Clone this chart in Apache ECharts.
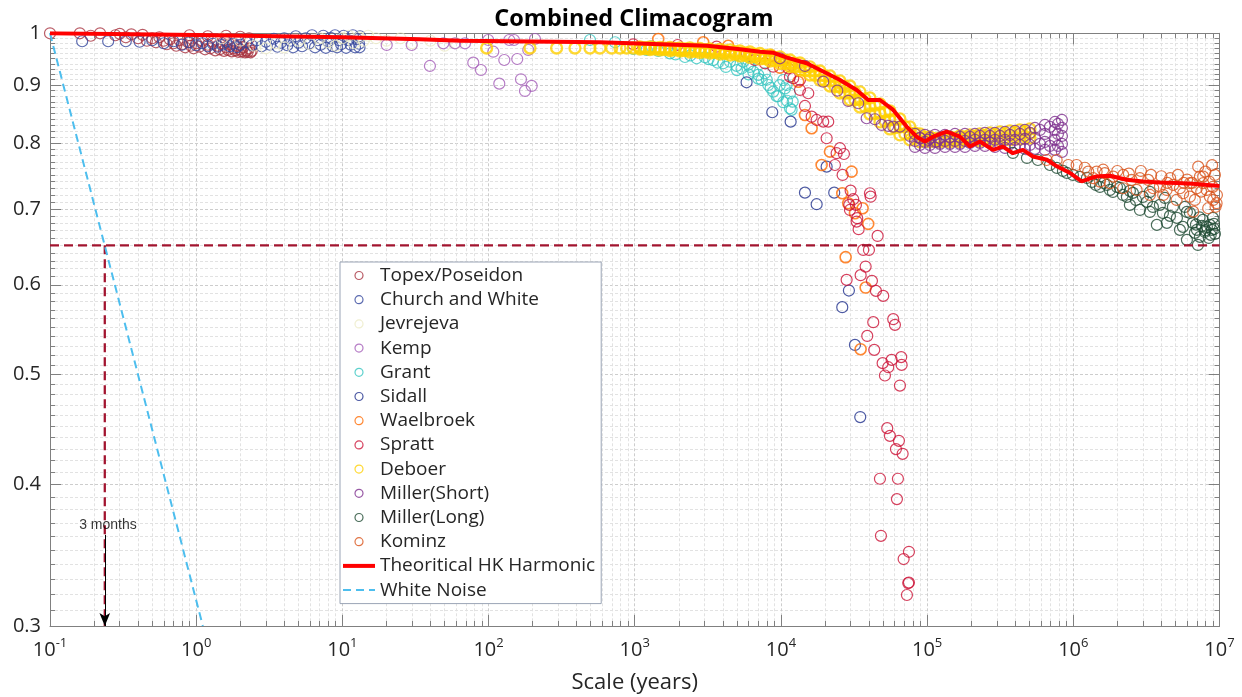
<!DOCTYPE html>
<html><head><meta charset="utf-8">
<script src="https://cdn.jsdelivr.net/npm/echarts@6/dist/echarts.min.js"></script>
<style>html,body{margin:0;padding:0;background:#fff}#c{width:1242px;height:697px}</style>
</head><body><div id="c"></div><script>
// ---------------- data (x = scale in years, y = climacogram value) ----------------
const xTickValues = [0.1, 1, 10, 100, 1000, 1e4, 1e5, 1e6, 1e7];
const yTickValues = [0.3, 0.4, 0.5, 0.6, 0.7, 0.8, 0.9, 1];
const thresholdY = 0.65;
const threeMonthsX = 0.237;

const topex = [[0.1,1.0],[0.16,1.0],[0.19,0.995],[0.22,1.0],[0.28,0.996],[0.3,0.999],[0.33,0.992],[0.36,0.998],[0.4,0.99],[0.43,0.997],[0.46,0.985],[0.5,0.99],[0.53,0.982],[0.56,0.992],[0.6,0.985],[0.63,0.978],[0.66,0.988],[0.7,0.98],[0.73,0.975],[0.77,0.986],[0.8,0.978],[0.84,0.972],[0.88,0.982],[0.92,0.975],[0.96,0.97],[1.0,0.98],[1.05,0.973],[1.1,0.985],[1.15,0.968],[1.2,0.977],[1.25,0.97],[1.3,0.983],[1.35,0.966],[1.4,0.975],[1.45,0.968],[1.5,0.98],[1.55,0.965],[1.6,0.972],[1.65,0.967],[1.7,0.978],[1.75,0.964],[1.8,0.97],[1.85,0.966],[1.9,0.975],[1.95,0.963],[2.0,0.968],[2.05,0.964],[2.1,0.972],[2.15,0.962],[2.2,0.966],[2.25,0.963],[2.3,0.97],[2.35,0.962],[2.4,0.965],[1.6,0.995],[2.0,0.993],[2.3,0.99],[1.2,0.994],[0.9,0.996]];

const church = [[0.166,0.984],[0.25,0.984],[0.33,0.984],[0.41,0.983],[0.5,0.986],[0.6,0.98],[0.7,0.984],[0.8,0.977],[0.9,0.982],[1.0,0.976],[1.1,0.98],[1.2,0.974],[1.3,0.979],[1.4,0.973],[1.5,0.977],[1.6,0.983],[1.7,0.974],[1.8,0.979],[1.9,0.972],[2.0,0.977],[2.2,0.982],[2.4,0.976],[2.6,0.986],[2.8,0.974],[3.0,0.983],[3.2,0.977],[3.4,0.989],[3.6,0.973],[3.8,0.981],[4.0,0.99],[4.2,0.976],[4.4,0.985],[4.6,0.972],[4.8,0.994],[5.0,0.981],[5.3,0.974],[5.6,0.99],[5.9,0.979],[6.2,0.996],[6.5,0.972],[6.8,0.986],[7.1,0.977],[7.4,0.995],[7.7,0.971],[8.0,0.983],[8.3,0.991],[8.6,0.974],[8.9,0.996],[9.2,0.972],[9.5,0.986],[9.8,0.978],[10.2,0.995],[10.6,0.971],[11,0.986],[11.4,0.977],[11.8,0.996],[12.2,0.972],[12.6,0.988],[13,0.979],[13.2,0.994],[13.1,0.972]];

const jevrejeva = [[1.5,0.99],[2,0.985],[2.5,0.975],[3,0.97],[3.5,0.98],[4,0.972],[5,0.985],[6,0.978],[7,0.99],[8,0.982],[9,0.975],[10,0.99],[11,0.995],[12,0.98],[13,0.992],[14,0.985],[15,0.995],[17,0.99],[20,0.985],[25,0.99],[30,0.98],[40,0.985],[50,0.975],[60,0.98]];

const kemp = [[20.1,0.9765],[29.8,0.9765],[39.7,0.9358],[49,0.9799],[58.9,0.9799],[69,0.9799],[78.6,0.9421],[88.7,0.9282],[99.5,0.9865],[107.7,0.9633],[118.4,0.9028],[128.1,0.9472],[138.6,0.9865],[149.2,0.9865],[157.1,0.9491],[166.6,0.9108],[177.4,0.8895],[186.9,0.9667],[197.2,0.8986],[207.7,0.9885]];

const grant = [[494,0.9865],[733,0.982],[977,0.9687],[1205,0.967],[1449,0.9647],[1742,0.96],[2205,0.953],[2650,0.9505],[3020,0.9525],[3440,0.947],[4030,0.941],[4480,0.944],[4970,0.936],[5380,0.931],[5970,0.938],[6470,0.925],[7000,0.919],[7380,0.9095],[8190,0.9003],[8860,0.8883],[9340,0.88],[10370,0.8694],[11530,0.8587],[12030,0.8703],[10930,0.9003],[5520,0.944],[6140,0.934],[7000,0.912],[7760,0.922],[9570,0.88],[10640,0.894],[11530,0.885],[11830,0.856],[10370,0.9095],[1300,0.974],[1900,0.958],[2400,0.956],[3200,0.949],[3700,0.942],[4200,0.934],[5000,0.928],[6000,0.92],[8000,0.91],[8500,0.895],[9800,0.9],[11000,0.872]];

const sidall = [[5821,0.9053],[8723,0.8518],[11650,0.8357],[14600,0.7235],[17550,0.7067],[20540,0.7627],[23150,0.7235],[26270,0.5733],[29170,0.593],[32080,0.531],[34870,0.4586]];

const waelbroek = [[1448,0.9885],[2941,0.9819],[4361,0.9751],[8634,0.9556],[9840,0.9327],[10650,0.9473],[11830,0.9377],[13130,0.9064],[14600,0.8471],[16220,0.8246],[18980,0.7653],[21640,0.7863],[26270,0.7226],[28860,0.7081],[30450,0.755],[32080,0.6939],[36210,0.7009],[39550,0.679],[27710,0.6346],[37960,0.5966],[35090,0.5264]];

const spratt = [[977,0.9779],[1966,0.9765],[3631,0.9732],[5821,0.9602],[6641,0.9472],[7777,0.9409],[8859,0.9344],[11220,0.9314],[11525,0.9157],[12140,0.9129],[13490,0.9095],[13490,0.8913],[15380,0.8853],[14600,0.8628],[16220,0.8442],[17550,0.8386],[19470,0.8357],[21060,0.8357],[20540,0.808],[25330,0.7918],[24040,0.7838],[26970,0.7826],[23410,0.7653],[26420,0.75],[29970,0.7265],[40630,0.7226],[41080,0.7176],[31230,0.7139],[29330,0.7057],[32580,0.7057],[29650,0.6985],[33250,0.6869],[34000,0.6717],[32940,0.6822],[45860,0.6626],[36550,0.644],[39990,0.644],[37960,0.6226],[35090,0.6118],[28140,0.606],[41930,0.6048],[44650,0.5926],[50090,0.5866],[42800,0.5561],[58630,0.5595],[60230,0.5531],[38940,0.5408],[43480,0.5257],[49620,0.5117],[57180,0.5151],[54190,0.5075],[66490,0.518],[66920,0.5099],[51440,0.499],[65160,0.4889],[53340,0.4484],[55660,0.4414],[64120,0.437],[61180,0.4297],[67980,0.4256],[47560,0.4046],[63130,0.4046],[62140,0.3882],[48310,0.3603],[75080,0.3488],[69060,0.3437],[74260,0.3273],[72750,0.3195],[75080,0.3277]];

const deboer = [[97,0.9706],[192,0.9706],[292,0.9706],[390,0.9706],[494,0.9706],[578,0.9706],[695,0.9706],[792,0.9706],[881,0.9706],[978,0.9706],
[1085,0.9726],[1085,0.9706],[1085,0.9686],[1271,0.9726],[1271,0.9701],[1271,0.9676],[1487,0.9716],[1487,0.9691],[1487,0.9667],
[1741,0.9716],[1741,0.9686],[1741,0.9657],[2038,0.9706],[2038,0.9676],[2038,0.9647],[2385,0.9706],[2385,0.9667],[2385,0.9627],
[2793,0.9696],[2793,0.9657],[2793,0.9618],[3268,0.9686],[3268,0.9647],[3268,0.9608],[3826,0.9676],[3826,0.9632],[3826,0.9588],
[4479,0.9667],[4479,0.9618],[4479,0.9569],[5243,0.9647],[5243,0.9598],[5243,0.955],[6138,0.9627],[6138,0.9574],[6138,0.9521],
[7185,0.9598],[7185,0.9545],[7185,0.9492],[8410,0.9569],[8410,0.9511],[8410,0.9453],[9845,0.953],[9845,0.9467],[9845,0.9405],
[11525,0.9472],[11525,0.941],[11525,0.9348],[13490,0.9415],[13490,0.9348],[13490,0.9282],[15790,0.9339],[15790,0.9263],[15790,0.9188],
[18490,0.9263],[18490,0.9179],[18490,0.9095],[21640,0.917],[21640,0.9077],[21640,0.8985],[25330,0.9077],[25330,0.8967],[25330,0.8858],
[29650,0.8985],[29650,0.8858],[29650,0.8733],[34710,0.8877],[34710,0.8742],[34710,0.861],[40630,0.8769],[40630,0.8628],[40630,0.8489],
[47560,0.8663],[47560,0.8506],[47560,0.8352],[55680,0.854],[55680,0.8386],[55680,0.8234],[65160,0.8403],[65160,0.8268],[65160,0.8135],
[76280,0.8268],[76280,0.8159],[76280,0.8053],[89300,0.8151],[89300,0.8085],[89300,0.802],[104500,0.8102],[104500,0.8061],[104500,0.802],
[122400,0.8085],[122400,0.8053],[122400,0.802],[143200,0.8102],[143200,0.8061],[143200,0.802],[167600,0.8118],[167600,0.8069],[167600,0.802],
[196300,0.8135],[196300,0.8085],[196300,0.8036],[229700,0.8151],[229700,0.8094],[229700,0.8036],[268900,0.8168],[268900,0.8102],[268900,0.8036],
[314800,0.8184],[314800,0.8118],[314800,0.8053],[368500,0.8201],[368500,0.8127],[368500,0.8053],[431300,0.8218],[431300,0.8143],[431300,0.8069],
[505000,0.8234],[505000,0.8159],[505000,0.8085],
[1174,0.9714],[1174,0.9692],[1375,0.9708],[1375,0.9684],[1609,0.9702],[1609,0.9674],[1884,0.9696],[1884,0.9667],[2205,0.9688],[2205,0.9655],
[2581,0.9681],[2581,0.9642],[3021,0.9671],[3021,0.9632],[3537,0.9661],[3537,0.962],[4140,0.9649],[4140,0.9602],[4846,0.9632],[4846,0.9584],
[5673,0.9612],[5673,0.9561],[6641,0.9586],[6641,0.9532],[7777,0.9555],[7777,0.9499],[9100,0.9519],[9100,0.9459],[10650,0.947],[10650,0.9407],
[12470,0.9411],[12470,0.9346],[14600,0.934],[14600,0.9271],[17090,0.9261],[17090,0.9181],[20000,0.9171],[20000,0.9084],[23410,0.9072],[23410,0.8972],
[27410,0.8972],[27410,0.8854],[32080,0.8866],[32080,0.8735],[37550,0.8753],[37550,0.8617],[43950,0.8641],[43950,0.8493],[51440,0.8523],[51440,0.8369],
[60230,0.8399],[60230,0.8255],[70500,0.8274],[70500,0.8152],[82540,0.8166],[82540,0.8078],[96600,0.81],[96600,0.8046],[113100,0.8075],[113100,0.8037],
[132400,0.8075],[132400,0.8037],[155000,0.8087],[155000,0.8043],[181400,0.8102],[181400,0.8053],[212300,0.8116],[212300,0.8062],[248600,0.8128],[248600,0.8067],
[290900,0.8143],[290900,0.8077],[340600,0.8157],[340600,0.8087],[398700,0.8172],[398700,0.8097],[466700,0.8188],[466700,0.8114]];

const millerShort = [[9845,0.9505],[14600,0.9358],[19470,0.9064],[24270,0.89],[28860,0.8716],[33790,0.8675],[38580,0.8415],[43950,0.8398],[48850,0.8301],[54200,0.8285],[58610,0.8273],[65150,0.8273],[76260,0.8118],[89290,0.808],[101700,0.8053],[116100,0.8024],
[82540,0.8151],[82540,0.8036],[82540,0.7939],[96600,0.8135],[96600,0.802],[96600,0.7923],[113100,0.8135],[113100,0.802],[113100,0.7923],
[132400,0.8135],[132400,0.8036],[132400,0.7939],[155000,0.8151],[155000,0.8036],[155000,0.7939],[181400,0.8151],[181400,0.8036],[181400,0.7939],
[212300,0.8151],[212300,0.8053],[212300,0.7955],[248600,0.8168],[248600,0.8053],[248600,0.7955],[290900,0.8168],[290900,0.8053],[290900,0.7939],
[340600,0.8184],[340600,0.8053],[340600,0.7923],[398700,0.8201],[398700,0.8053],[398700,0.7923],[466700,0.8218],[466700,0.8069],[466700,0.7907],
[546300,0.8251],[546300,0.8085],[546300,0.7907],[639400,0.8301],[639400,0.8151],[639400,0.802],[639400,0.7891],
[748500,0.8352],[748500,0.8218],[748500,0.8053],[748500,0.7891],[835800,0.8386],[835800,0.8251],[835800,0.8118],[835800,0.7988],[835800,0.7858],
[89300,0.8085],[89300,0.7971],[104500,0.8085],[104500,0.7971],[122400,0.8085],[122400,0.7988],[143200,0.8102],[143200,0.7988],[167600,0.8102],[167600,0.7988],
[196300,0.8102],[196300,0.8004],[229700,0.8118],[229700,0.8004],[268900,0.8118],[268900,0.8004],[314800,0.8118],[314800,0.7988],[368500,0.8135],[368500,0.7988],
[431300,0.8151],[431300,0.7971],[505000,0.8168],[505000,0.7971],[590900,0.8218],[590900,0.7988],[691800,0.8268],[691800,0.7955],[784900,0.8318],[784900,0.8151],[784900,0.7955]];

const millerLong = [[386300,0.7842],[481600,0.7763],[572600,0.7731],[691800,0.7653],[772500,0.7607],[849000,0.7561],[904000,0.753],[993800,0.75],[1.11e6,0.7469],[1.239e6,0.7454],[1.341e6,0.7394],[1.427e6,0.7349],[1.52e6,0.7319],[1.619e6,0.7379],[1.697e6,0.7349],[1.78e6,0.7275],[1.866e6,0.7245],[1.988e6,0.7319],[2.083e6,0.7304],[2.184e6,0.7201],[2.326e6,0.7172],[2.438e6,0.726],[2.556e6,0.7231],[2.68e6,0.7128],[2.855e6,0.6985],[2.993e6,0.7172],[3.187e6,0.71],[3.341e6,0.6957],[3.503e6,0.7028],[3.729e6,0.6776],[3.911e6,0.7057],[4.101e6,0.6943],[4.368e6,0.6804],[4.579e6,0.6901],[4.801e6,0.7028],[5.112e6,0.6873],[5.359e6,0.6708],[5.62e6,0.6749],[5.984e6,0.6573],[5.984e6,0.6957],[6.273e6,0.6943],[6.577e6,0.6804],[6.787e6,0.6667],[7.004e6,0.6708],[7.116e6,0.6506],[7.342e6,0.6613],[7.577e6,0.6762],[7.698e6,0.6845],[7.943e6,0.668],[8.197e6,0.6749],[8.459e6,0.6599],[8.593e6,0.6776],[8.872e6,0.6708],[9.014e6,0.6873],[9.302e6,0.6653],[9.157e6,0.679],[3.341e6,0.7245],[2.438e6,0.7057],[4.231e6,0.7157],[5.799e6,0.7028],[8.0e6,0.67],[8.7e6,0.664],[9.2e6,0.672],[7.3e6,0.688],[6.9e6,0.678]];

const kominz = [[656800,0.7731],[768900,0.7731],[923300,0.7653],[1.0535e6,0.7653],[1.2645e6,0.755],[1.443e6,0.755],[1.645e6,0.7526],[1.875e6,0.7474],[2.194e6,0.75],[2.505e6,0.7424],[2.855e6,0.745],[3.253e6,0.7424],[3.52e6,0.73],[3.911e6,0.7324],[4.346e6,0.7275],[4.823e6,0.7349],[5.359e6,0.73],[5.645e6,0.7226],[6.273e6,0.7176],[6.787e6,0.7128],[7.15e6,0.7627],[7.342e6,0.7474],[7.735e6,0.7375],[8.16e6,0.7275],[8.593e6,0.7176],[9.055e6,0.7128],[9.55e6,0.7081],[6.608e6,0.6961],[8.368e6,0.7009],[7.735e6,0.7474],[6.273e6,0.7375],[5.088e6,0.7128],[4.12e6,0.7201],[3.341e6,0.7201],[2.71e6,0.7275],[2.194e6,0.73],[1.78e6,0.7375],[1.52e6,0.7399],[1.368e6,0.745],[1.2e6,0.761],[1.6e6,0.758],[2.0e6,0.756],[2.4e6,0.752],[2.9e6,0.756],[3.4e6,0.75],[4.0e6,0.748],[4.6e6,0.745],[5.2e6,0.75],[6.0e6,0.743],[6.5e6,0.738],[7.0e6,0.73],[7.5e6,0.725],[8.0e6,0.755],[8.5e6,0.74],[9.0e6,0.732],[9.3e6,0.75],[9.6e6,0.72],[9.4e6,0.703],[8.9e6,0.765],[5.7e6,0.738],[4.4e6,0.738]];

const hkHarmonic = [[0.1,1.0],[1,0.9966],[10,0.992],[34,0.988],[63.7,0.985],[578,0.9819],[3119,0.975],[5250,0.968],[7180,0.9633],[8810,0.9614],[10990,0.9517],[15000,0.9409],[20550,0.922],[25350,0.9095],[32960,0.8913],[39540,0.8733],[47550,0.8733],[58630,0.8559],[72400,0.8274],[84700,0.8106],[96600,0.8026],[110100,0.8106],[135900,0.8188],[167500,0.8106],[196300,0.7945],[229700,0.8026],[281800,0.7891],[329800,0.7945],[386200,0.7838],[451900,0.7891],[529300,0.7786],[659800,0.7734],[772000,0.7632],[948000,0.753],[1.14e6,0.7401],[1.44e6,0.7477],[1.78e6,0.7488],[2.31e6,0.7426],[2.99e6,0.7401],[3.91e6,0.7386],[5.08e6,0.7377],[6.57e6,0.7366],[9.55e6,0.7337],[1e7,0.7335]];

const whiteNoise = [[0.1,1.0],[1.11,0.3]];

// ---------------- chart ----------------
const FONT = 'Open Sans';
const TXT = '#262626';
const AX = '#808080';
const xMinor = [];
for (let e = -1; e < 7; e++) for (let k = 2; k <= 9; k++) xMinor.push(+(k * Math.pow(10, e)).toPrecision(3));
const yMinor = [];
for (let i = 31; i < 100; i++) if (i % 10 !== 0) yMinor.push(i / 100);

const majorGrid = {show: true, lineStyle: {color: '#cdcdcd', width: 1, type: [3, 2]}};
const minorGrid = {show: true, lineStyle: {color: '#e2e2e2', width: 1, type: [3, 2]}};

function xAx(pos, ticks, len, withLine, withLabel, grid) {
  return {
    type: 'log', logBase: 10, min: 0.1, max: 1e7, position: pos, gridIndex: 0,
    axisLine: {show: withLine, onZero: false, lineStyle: {color: AX, width: 1}},
    axisTick: {show: true, inside: true, length: len, customValues: ticks, lineStyle: {color: AX, width: 1}},
    axisLabel: withLabel ? {
      show: true, customValues: ticks, margin: 11,
      formatter: function (v) { return '{b|10}{s|' + Math.round(Math.log10(v)) + '}'; },
      rich: {
        b: {fontSize: 20, fontFamily: FONT, color: TXT},
        s: {fontSize: 13, fontFamily: FONT, color: TXT, padding: [0, 0, 14, 0]}
      }
    } : {show: false},
    splitLine: grid || {show: false},
    name: withLabel ? 'Scale (years)' : '',
    nameLocation: 'middle', nameGap: 46,
    nameTextStyle: {fontSize: 22, fontFamily: FONT, color: TXT}
  };
}
function yAx(pos, ticks, len, withLine, withLabel, grid) {
  return {
    type: 'log', logBase: 10, min: 0.3, max: 1, position: pos, gridIndex: 0,
    axisLine: {show: withLine, onZero: false, lineStyle: {color: AX, width: 1}},
    axisTick: {show: true, inside: true, length: len, customValues: ticks, lineStyle: {color: AX, width: 1}},
    axisLabel: withLabel ? {
      show: true, customValues: ticks, margin: 9,
      fontSize: 20, fontFamily: FONT, color: TXT,
      formatter: function (v) { return v >= 0.999 ? '1' : v.toFixed(1); }
    } : {show: false},
    splitLine: grid || {show: false}
  };
}

function sc(name, data, color, bw) {
  return {
    name: name, type: 'scatter', data: data, symbol: 'circle', symbolSize: 11,
    itemStyle: {color: 'transparent', borderColor: color, borderWidth: bw || 1.2},
    emphasis: {disabled: true}, z: 3, silent: true
  };
}

const noIcon = {color: 'transparent', borderColor: 'transparent', borderWidth: 0};

const chart = echarts.init(document.getElementById('c'), null, {renderer: 'canvas'});
chart.setOption({
  animation: false,
  backgroundColor: '#fff',
  title: {
    text: 'Combined Climacogram', left: 634, top: 7, padding: 0, textAlign: 'center',
    textStyle: {fontSize: 23.5, fontWeight: 'bold', fontFamily: FONT, color: '#000'}
  },
  grid: {left: 50, right: 22.5, top: 33.3, bottom: 71, outerBoundsMode: 'none'},
  xAxis: [
    xAx('bottom', xTickValues, 11, true, true, majorGrid),
    xAx('top', xTickValues, 11, true, false, null),
    xAx('bottom', xMinor, 5, false, false, minorGrid),
    xAx('top', xMinor, 5, false, false, null)
  ],
  yAxis: [
    yAx('left', yTickValues, 11, true, true, majorGrid),
    yAx('right', yTickValues, 11, true, false, null),
    yAx('left', yMinor, 5, false, false, minorGrid),
    yAx('right', yMinor, 5, false, false, null)
  ],
  legend: {
    orient: 'vertical', left: 340, top: 262, z: 20,
    padding: [4, 6, 4, 1], itemWidth: 32, itemHeight: 8, itemGap: 5.2,
    backgroundColor: '#fff', borderColor: '#9aa4b5', borderWidth: 1, borderRadius: 0,
    selectedMode: false,
    textStyle: {fontSize: 19, lineHeight: 19, fontFamily: FONT, color: TXT},
    itemStyle: {borderWidth: 1.2},
    lineStyle: {width: 'inherit'},
    data: ['Topex/Poseidon', 'Church and White', 'Jevrejeva', 'Kemp', 'Grant', 'Sidall', 'Waelbroek', 'Spratt', 'Deboer', 'Miller(Short)', 'Miller(Long)', 'Kominz',
      {name: 'Theoritical HK Harmonic', itemStyle: noIcon},
      {name: 'White Noise', itemStyle: noIcon}]
  },
  series: [
    sc('Topex/Poseidon', topex, '#A8323E'),
    sc('Church and White', church, '#33469C'),
    sc('Jevrejeva', jevrejeva, '#ECEBC6'),
    sc('Kemp', kemp, '#A45DB8'),
    sc('Grant', grant, '#36C5C0'),
    sc('Sidall', sidall, '#1F308C'),
    sc('Waelbroek', waelbroek, '#FF6A00', 1.6),
    sc('Spratt', spratt, '#CC1236'),
    sc('Deboer', deboer, '#FFD000', 2.3),
    sc('Miller(Short)', millerShort, '#7E2F8E'),
    sc('Miller(Long)', millerLong, '#1E4A32'),
    sc('Kominz', kominz, '#D95319'),
    {
      name: 'threshold', type: 'line', data: [[0.1, thresholdY], [1e7, thresholdY]], symbol: 'none', silent: true, z: 4,
      lineStyle: {color: '#A2142F', width: 2.3, type: [9, 5]}
    },
    {
      name: 'threeMonths', type: 'line', data: [[threeMonthsX, thresholdY], [threeMonthsX, 0.3]], symbol: 'none', silent: true, z: 4,
      lineStyle: {color: '#A2142F', width: 2.3, type: [9, 5]},
      markLine: {
        silent: true, symbol: ['none', 'arrow'], symbolSize: [8, 13], z: 6,
        lineStyle: {color: '#000', width: 1, type: 'solid'}, label: {show: false},
        data: [[{coord: [threeMonthsX, 0.361]}, {coord: [threeMonthsX, 0.3]}]]
      }
    },
    {
      name: 'White Noise', type: 'line', data: whiteNoise, symbol: 'none', silent: true, z: 4,
      lineStyle: {color: '#4DBEEE', width: 2, type: [8, 5]}, itemStyle: {color: '#4DBEEE'}
    },
    {
      name: 'Theoritical HK Harmonic', type: 'line', data: hkHarmonic, symbol: 'none', silent: true, z: 5,
      lineStyle: {color: '#FF0000', width: 4}, itemStyle: {color: '#FF0000'}
    },
    {
      name: 'note', type: 'scatter', data: [[0.249, 0.368]], symbolSize: 1, silent: true, z: 6,
      itemStyle: {color: 'transparent'},
      label: {show: true, position: 'inside', formatter: '3 months', color: '#000', fontSize: 14, fontFamily: 'Liberation Sans'}
    }
  ]
});
</script></body></html>
